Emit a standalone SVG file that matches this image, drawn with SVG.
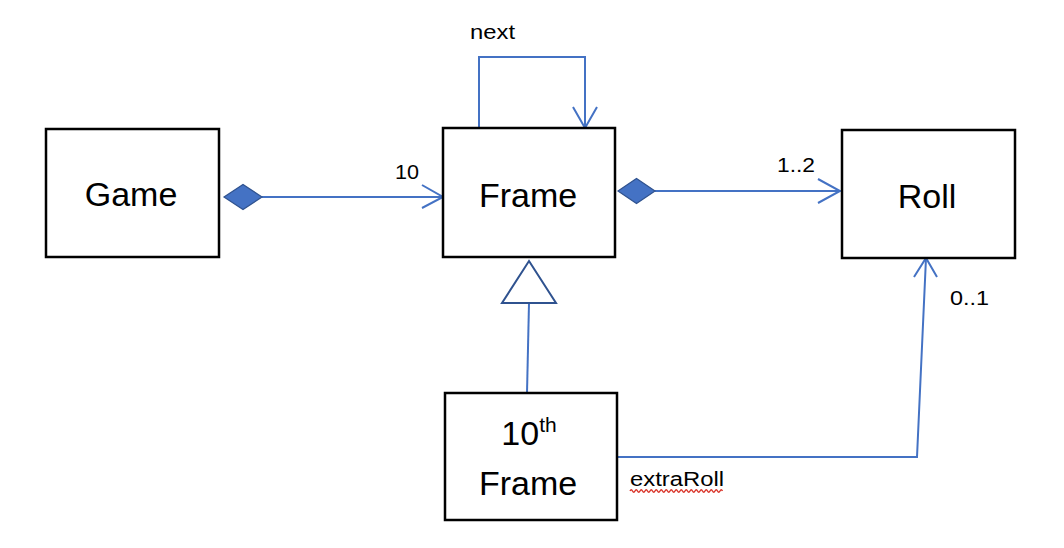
<svg xmlns="http://www.w3.org/2000/svg" width="1064" height="548" viewBox="0 0 1064 548">
<style>
.box{fill:#fff;stroke:#000;stroke-width:2.5}
.big{font-family:"Liberation Sans",Arial,sans-serif;font-size:34px;fill:#000;text-anchor:middle}
.lbl{font-family:"Liberation Sans",Arial,sans-serif;font-size:20px;fill:#000}
.ln{fill:none;stroke:#4472C4;stroke-width:2}
.dia{fill:#4472C4;stroke:#2F528F;stroke-width:1.2}
.tri{fill:#fff;stroke:#2F528F;stroke-width:2}
</style>
<rect width="1064" height="548" fill="#fff"/>
<g id="connectors">
  <g id="game-frame">
    <line class="ln" x1="262" y1="197" x2="443" y2="197"/>
    <polygon class="dia" points="224,197 243,184.5 262,197 243,209.5"/>
    <polyline class="ln" points="422,185 443,197 422,208"/>
    <text class="lbl" x="395" y="179" textLength="24" lengthAdjust="spacingAndGlyphs">10</text>
  </g>
  <g id="frame-roll">
    <line class="ln" x1="655" y1="191" x2="840" y2="191"/>
    <polygon class="dia" points="618,191 636.5,178.5 655,191 636.5,203.5"/>
    <polyline class="ln" points="818,179 840,191 818,203"/>
    <text class="lbl" x="777" y="172" textLength="38" lengthAdjust="spacingAndGlyphs">1..2</text>
  </g>
  <g id="frame-next">
    <polyline class="ln" points="479,128 479,57 585,57 585,128"/>
    <polyline class="ln" points="573,107 585,128 597,107"/>
    <text class="lbl" x="470" y="39" textLength="45" lengthAdjust="spacingAndGlyphs">next</text>
  </g>
  <g id="inherit">
    <line class="ln" x1="529" y1="303" x2="527" y2="393"/>
    <polygon class="tri" points="529,261 556,303 502,303"/>
  </g>
  <g id="extra-roll">
    <polyline class="ln" points="617,457 917,457 926,258"/>
    <polyline class="ln" points="914,277 926,258 937,277"/>
    <text class="lbl" x="950" y="305" textLength="39" lengthAdjust="spacingAndGlyphs">0..1</text>
    <text class="lbl" x="630" y="486" textLength="94" lengthAdjust="spacingAndGlyphs">extraRoll</text>
    <path d="M630,491 q1.25,-2.4 2.5,0 t2.5,0 t2.5,0 t2.5,0 t2.5,0 t2.5,0 t2.5,0 t2.5,0 t2.5,0 t2.5,0 t2.5,0 t2.5,0 t2.5,0 t2.5,0 t2.5,0 t2.5,0 t2.5,0 t2.5,0 t2.5,0 t2.5,0 t2.5,0 t2.5,0 t2.5,0 t2.5,0 t2.5,0 t2.5,0 t2.5,0 t2.5,0 t2.5,0 t2.5,0 t2.5,0 t2.5,0 t2.5,0 t2.5,0 t2.5,0 t2.5,0 t2.5,0" fill="none" stroke="#D9352B" stroke-width="1.4"/>
  </g>
</g>
<g id="game">
  <rect class="box" x="46" y="129" width="173" height="128"/>
  <text class="big" x="131" y="206">Game</text>
</g>
<g id="frame">
  <rect class="box" x="443" y="128" width="172" height="129"/>
  <text class="big" x="528" y="207">Frame</text>
</g>
<g id="roll">
  <rect class="box" x="842" y="130" width="173" height="128"/>
  <text class="big" x="927" y="208">Roll</text>
</g>
<g id="tenth-frame">
  <rect class="box" x="445" y="393" width="172" height="127"/>
  <text class="big" x="529" y="445">10<tspan font-size="21" dy="-13">th</tspan></text>
  <text class="big" x="528" y="495">Frame</text>
</g>
</svg>
